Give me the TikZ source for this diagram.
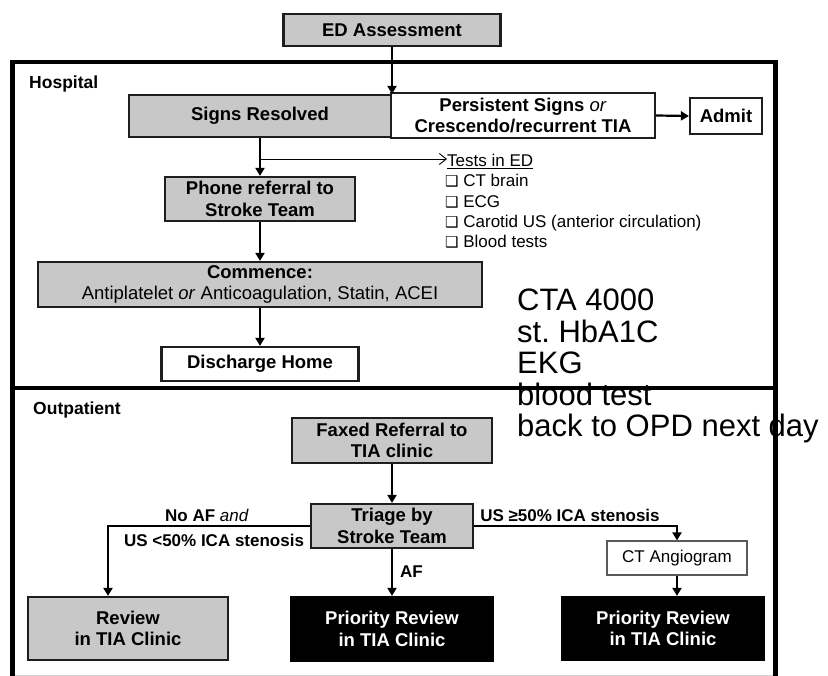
\documentclass[tikz,border=0pt]{standalone}
\usepackage{fontspec}
\setmainfont{Liberation Sans}
\newfontfamily\symbolfont{DejaVu Sans}
\usetikzlibrary{arrows.meta}
\definecolor{boxgray}{RGB}{200,200,200}
\definecolor{edgegray}{RGB}{30,30,30}
\newcommand{\tickbox}{{\symbolfont\fontsize{15}{15}\selectfont ❑}}
\frenchspacing

\begin{document}
\begin{tikzpicture}[x=1pt, y=-1pt,
    flowbox/.style={draw=edgegray, line width=2.2pt, fill=boxgray, align=center,
        font=\fontsize{18.5}{21.5}\selectfont\bfseries, inner sep=1pt},
    whitebox/.style={flowbox, fill=white},
    blackbox/.style={flowbox, fill=black, draw=black, text=white},
    thinbox/.style={flowbox, fill=white, draw=black!65, line width=1.2pt,
        font=\fontsize{17}{20}\selectfont},
    flow/.style={line width=2.2pt, -{Triangle[length=8pt,width=9pt]}},
    testarrow/.style={line width=0.9pt, -{Straight Barb[length=7pt,width=11pt]}},
    frame/.style={line width=4.5pt},
    sectionlabel/.style={inner sep=0pt, font=\fontsize{17.5}{20}\selectfont\bfseries},
    branchlabel/.style={inner sep=0pt, font=\fontsize{17}{20}\selectfont\bfseries},
    testitem/.style={inner sep=0pt, font=\fontsize{17}{20}\selectfont},
    overlaynote/.style={inner sep=0pt, font=\fontsize{31}{31.5}\selectfont}]
    \useasboundingbox (0,0) rectangle (828,676);
    %\draw[lightgray] (0,0) grid[step=50] (828,676);

    % frames for hospital and outpatient
    \draw[frame] (12.5,676) -- (12.5,62) -- (775.5,62) -- (775.5,676);
    \draw[frame] (12.5,388) -- (775.5,388);
    \draw[gray!35, line width=0.8pt] (15,675) -- (773,675);

    % hospital part
    \node[flowbox, minimum width=217pt, minimum height=32pt] (ed) at (392,30) {ED Assessment};
    \node[sectionlabel, anchor=base west] (hosp) at (29,89) {Hospital};
    \node[flowbox, minimum width=262pt, minimum height=42pt] (signs) at (260,116) {Signs Resolved};
    \node[whitebox, minimum width=264pt, minimum height=45pt] (persist) at (523,115.5)
        {Persistent Signs \textmd{\textit{or}}\\Crescendo/recurrent TIA};
    \node[whitebox, minimum width=72pt, minimum height=36pt] (admit) at (726,116) {Admit};
    \node[flowbox, minimum width=190pt, minimum height=44pt] (phone) at (260,199)
        {Phone referral to\\Stroke Team};
    \node[testitem, anchor=base west] (tests) at (447,166.7) {\underline{Tests in ED}};
    \foreach \txt [count=\i] in {CT brain, ECG, Carotid US (anterior circulation), Blood tests}
        \node[testitem, anchor=base west] (test\i) at (445,166.7+20.3*\i) {\tickbox\ \txt};
    \node[flowbox, minimum width=444pt, minimum height=45pt] (commence) at (260,284.5)
        {Commence:\\\textmd{Antiplatelet \textit{or} Anticoagulation, Statin, ACEI}};
    \node[whitebox, minimum width=197pt, minimum height=34pt] (discharge) at (260,364) {Discharge Home};

    \draw[flow] (ed.south) -- (ed.south |- signs.north);
    \draw[flow] (persist.east) -- (admit.west);
    \draw[flow] (signs.south) -- (phone.north);
    \coordinate (branch) at (260,159);
    \draw[testarrow] (branch) -- (branch -| tests.west);
    \draw[flow] (phone.south) -- (commence.north);
    \draw[flow] (commence.south) -- (discharge.north);

    % outpatient part
    \node[sectionlabel, anchor=base west] (outp) at (33,414) {Outpatient};
    \node[flowbox, minimum width=200pt, minimum height=45pt] (faxed) at (392,440.5)
        {Faxed Referral to\\TIA clinic};
    \node[flowbox, minimum width=162pt, minimum height=44pt] (triage) at (392,526)
        {Triage by\\Stroke Team};
    \node[flowbox, minimum width=200pt, minimum height=63pt] (review) at (128,628.5)
        {Review\\in TIA Clinic};
    \node[blackbox, minimum width=201pt, minimum height=64pt] (prmid) at (392,629)
        {Priority Review\\in TIA Clinic};
    \node[thinbox, minimum width=140pt, minimum height=34pt] (cta) at (677,558) {CT Angiogram};
    \node[blackbox, minimum width=202pt, minimum height=63pt] (prright) at (663,628.5)
        {Priority Review\\in TIA Clinic};

    \draw[flow] (faxed.south) -- (triage.north);
    \draw[flow] (triage.west) -| ([xshift=-20pt]review.north);
    \draw[flow] (triage.south) -- (prmid.north);
    \draw[flow] (triage.east) -| (cta.north);
    \draw[flow] (cta.south) -- (cta.south |- prright.north);
    \node[branchlabel, anchor=base] (noaf) at (207,521) {No AF \textmd{\textit{and}}};
    \node[branchlabel, anchor=base] (uslow) at (214,546) {US <50\% ICA stenosis};
    \node[branchlabel, anchor=base] (ushigh) at (570,521) {US ≥50\% ICA stenosis};
    \node[branchlabel, anchor=base west] (af) at (400,577) {AF};

    % notes written over the chart
    \foreach \txt [count=\i] in {CTA 4000, st. HbA1C, EKG, blood test, back to OPD next day}
        \node[overlaynote, anchor=base west] (note\i) at (517,279.2+31.5*\i) {\txt};
\end{tikzpicture}
\end{document}
